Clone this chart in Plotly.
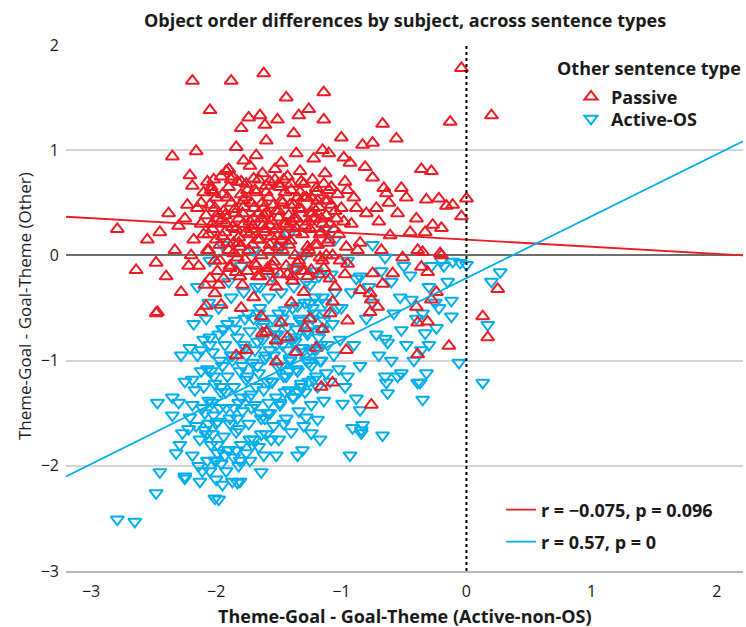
import plotly.graph_objects as go

# ---------------- data ----------------
passive_x = [
    -2.19, -1.88, -1.62, -2.05, -1.44, -1.14, -1.74, -1.65, -1.51, -1.34,
    -1.26, -1.14, -1.80, -1.61, -1.38, -0.04, 0.20, -0.13, -0.67, -0.56,
    -0.83, -0.75, -2.35, -2.16, -1.84, -1.60, -1.36, -2.21, -2.19, -2.23,
    -1.00, -1.10, -0.93, -1.22, -1.68, -1.78, -1.48, -0.98, -1.90, -1.15,
    -0.36, -0.28, -0.81, -0.75, -0.52, -0.66, -0.64, -0.32, -0.22, -0.16,
    -0.11, 0.00, -0.04, -0.20, -0.27, -0.40, -0.33, -0.45, -0.61, -0.21,
    -0.35, -0.39, -0.36, -0.51, -0.68, -0.75, -0.59, -0.20, 0.25, 0.13,
    0.17, -0.14, -0.39, -0.76, -0.31, -0.39, -0.28, -0.40, -0.24, -0.31,
    -0.67, -0.77, -0.76, -0.71, -0.77, -0.85, -0.88, -0.92, -0.95, -0.85,
    -0.97, -0.90, -0.80, -0.70, -0.55, -0.48, -0.62, -0.87, -0.95, -0.72,
    -2.47, -2.12, -1.96, -1.80, -1.64, -1.48, -1.63, -1.60, -1.52, -1.43,
    -1.29, -1.25, -1.84, -1.76, -1.52, -1.36, -1.20, -0.96, -1.16, -1.07,
    -1.09, -1.07, -2.01, -2.09, -1.70, -1.40, -1.05, -0.95, -1.15, -1.30,
    -2.79, -2.64, -2.48, -2.48, -2.45, -2.55, -2.38, -2.30, -2.33, -2.40,
    -2.28, -2.22, -2.18, -2.25, -2.15, -2.10, -2.12, -2.20, -2.05, -2.08,
    -2.02, -2.00, -1.98, -2.03, -1.97, -2.01, -1.99, -2.04, -1.96, -1.95,
    -1.92, -1.90, -1.88, -1.93, -1.87, -1.91, -1.86, -1.89, -1.94, -1.85,
    -1.83, -1.80, -1.78, -1.82, -1.76, -1.81, -1.77, -1.84, -1.79, -1.75,
    -1.78, -1.82, -1.73, -1.70, -1.68, -1.72, -1.66, -1.71, -1.67, -1.74,
    -1.69, -1.65, -1.70, -1.73, -1.63, -1.60, -1.58, -1.62, -1.56, -1.61,
    -1.57, -1.64, -1.59, -1.55, -1.60, -1.63, -1.57, -1.53, -1.50, -1.48,
    -1.52, -1.46, -1.51, -1.47, -1.54, -1.49, -1.45, -1.50, -1.52, -1.43,
    -1.40, -1.38, -1.42, -1.36, -1.41, -1.37, -1.44, -1.39, -1.35, -1.40,
    -1.33, -1.30, -1.28, -1.32, -1.26, -1.31, -1.27, -1.34, -1.29, -1.25,
    -1.23, -1.20, -1.18, -1.22, -1.16, -1.21, -1.17, -1.24, -1.19, -1.15,
    -1.13, -1.10, -1.08, -1.12, -1.06, -1.11, -1.07, -1.14, -1.09, -1.05,
    -1.03, -1.00, -0.98, -1.02, -0.96, -1.01, -0.97, -1.04, -2.12, -2.08,
    -2.10, -2.06, -2.14, -2.07,
    -2.05, -2.00, -1.95, -1.90, -1.85, -1.80, -1.75, -1.70, -1.65, -1.60,
    -1.55, -1.50, -1.45, -1.40, -1.35, -1.30, -1.25, -1.20, -1.15, -1.10,
    -2.03, -1.98, -1.93, -1.88, -1.83, -1.78, -1.73, -1.68, -1.63, -1.58,
    -1.53, -1.48, -1.43, -1.38, -1.33, -1.28, -1.23, -1.18, -1.13, -1.08,
    -2.07, -2.02, -1.97, -1.92, -1.87, -1.82, -1.77, -1.72, -1.67, -1.62,
    -1.57, -1.52, -1.47, -1.42, -1.37, -1.32, -1.27, -1.22, -1.17, -1.12,
    -2.04, -1.99, -1.94, -1.89, -1.84, -1.79, -1.74, -1.69, -1.64, -1.59,
    -1.54, -1.49, -1.44, -1.39, -1.34, -1.29, -1.24, -1.19, -1.14, -1.09,
    -2.06, -2.01, -1.96, -1.91, -1.86, -1.81, -1.76, -1.71, -1.66, -1.61,
    -1.56, -1.51, -1.46, -1.41, -1.36, -1.31, -1.26, -1.21, -1.16, -1.11,
]
passive_y = [
    1.66, 1.66, 1.73, 1.38, 1.50, 1.55, 1.31, 1.33, 1.29, 1.33,
    1.39, 1.29, 1.21, 1.24, 1.16, 1.78, 1.33, 1.27, 1.25, 1.11,
    1.05, 1.07, 0.94, 0.99, 1.03, 1.09, 0.97, 0.76, 0.66, 0.48,
    1.12, 0.97, 0.88, 0.92, 0.95, 0.90, 0.88, 0.93, 0.82, 1.00,
    0.82, 0.80, 0.84, 0.74, 0.64, 0.64, 0.59, 0.53, 0.54, 0.47,
    0.48, 0.54, 0.37, 0.26, 0.29, 0.35, 0.22, 0.22, 0.19, 0.02,
    0.03, 0.05, -0.11, -0.02, 0.05, -0.17, -0.17, 0.00, -0.32, -0.58,
    -0.78, -0.86, -0.94, -1.42, -0.63, -0.64, -0.42, -0.49, -0.35, -0.16,
    -0.27, -0.36, -0.42, -0.49, -0.54, -0.33, 0.45, 0.30, 0.62, 0.12,
    0.70, 0.55, 0.40, 0.32, 0.40, 0.55, 0.50, 0.05, -0.08, 0.45,
    -0.54, -0.54, -0.47, -0.50, -0.58, -0.64, -0.74, -0.73, -0.81, -0.78,
    -0.69, -0.60, -0.95, -0.90, -1.01, -0.92, -0.88, -0.90, -1.25, -1.21,
    -0.55, -0.44, -0.36, -0.28, -0.40, -0.45, -0.30, -0.62, -0.70, -0.35,
    0.25, -0.14, -0.55, -0.07, 0.22, 0.15, 0.40, 0.28, 0.05, -0.20,
    -0.35, -0.10, 0.15, 0.35, 0.45, 0.60, 0.30, 0.00, -0.22, -0.48,
    0.72, 0.55, 0.40, 0.25, 0.10, -0.05, -0.15, 0.62, 0.33, 0.18,
    0.80, 0.65, 0.50, 0.38, 0.27, 0.12, 0.02, -0.10, -0.22, 0.44,
    0.70, 0.58, 0.46, 0.35, 0.22, 0.08, -0.04, -0.16, -0.28, 0.62,
    0.30, 0.17, 0.85, 0.73, 0.60, 0.50, 0.40, 0.28, 0.15, 0.05,
    -0.08, -0.20, 0.35, 0.20, 0.78, 0.66, 0.55, 0.45, 0.33, 0.22,
    0.10, 0.00, -0.12, -0.25, 0.40, 0.28, 0.70, 0.82, 0.68, 0.52,
    0.42, 0.30, 0.18, 0.05, -0.06, -0.18, 0.60, 0.36, 0.25, 0.75,
    0.62, 0.48, 0.38, 0.26, 0.14, 0.00, -0.10, -0.24, 0.55, 0.32,
    0.80, 0.68, 0.55, 0.44, 0.32, 0.20, 0.08, -0.05, -0.15, 0.40,
    0.72, 0.60, 0.46, 0.35, 0.22, 0.10, -0.02, -0.14, 0.52, 0.30,
    0.78, 0.62, 0.48, 0.38, 0.25, 0.12, 0.00, -0.12, -0.22, 0.42,
    0.58, 0.45, 0.32, 0.20, 0.08, -0.05, -0.18, 0.35, 0.50, 0.38,
    0.20, 0.05, -0.10, 0.70,
    0.48, 0.15, 0.58, 0.05, 0.40, 0.70, -0.15, 0.45, 0.15, 0.60,
    -0.10, 0.42, 0.20, 0.68, -0.08, 0.55, 0.25, 0.64, -0.05, 0.15,
    0.30, -0.28, 0.22, 0.72, -0.02, 0.52, 0.32, -0.10, 0.50, 0.05,
    0.72, 0.15, -0.18, 0.35, 0.60, 0.02, 0.40, -0.18, 0.52, 0.65,
    0.05, 0.60, -0.05, 0.30, 0.75, 0.12, 0.55, 0.25, -0.20, 0.38,
    0.28, -0.30, 0.50, 0.10, 0.22, 0.70, -0.20, 0.45, 0.20, 0.00,
    0.65, 0.35, 0.42, -0.12, 0.25, 0.40, 0.05, 0.62, 0.35, -0.15,
    0.48, 0.65, 0.30, -0.20, 0.45, 0.28, 0.55, 0.10, 0.68, 0.30,
    0.20, 0.45, 0.75, 0.55, 0.12, -0.20, 0.68, 0.10, 0.72, 0.25,
    0.18, 0.08, 0.72, 0.48, 0.35, -0.15, 0.05, 0.35, 0.35, 0.52,
]

active_x = [
    -2.79, -2.65, -2.48, -2.45, -2.47, -2.21, -2.19, -2.35, -2.19, -2.35,
    -2.21, -2.25, -2.13, -2.00, -2.01, -1.87, -1.81, -1.64, -1.99, -2.29,
    -2.32, -2.27, -1.83, -1.98, -1.95, -2.05, -2.25, -1.52, -1.35, -1.31,
    -1.17, -1.24, -0.93, -0.99, -0.88, -0.85, -0.91, -0.84, -1.28, -1.19,
    0.27, 0.20, 0.17, 0.13, -0.06, -0.12, -0.12, 0.00, -0.05, -0.11,
    -0.32, -0.37, -0.35, -0.65, -0.64, -0.55, -0.52, -0.63, -0.83, -0.84,
    -0.67, -0.52, -0.33, -0.24, -0.65, -0.63, -0.36, -0.39, -0.53, -0.44,
    -0.45, -0.20, -0.28, -0.30, -0.22, -0.40, -0.15, -0.25, -0.18, -0.35,
    -0.80, -0.75, -0.70, -0.85, -0.78, -0.60, -0.58, -0.72, -0.90, -0.95,
    -0.48, -0.42, -0.60, -0.30, -0.50, -0.68, -0.85, -0.92, -1.00, -0.97,
    -2.05, -1.95, -1.80, -1.70, -1.55, -1.42, -1.30, -1.20, -1.05, -0.95,
    -1.90, -1.65, -1.48, -1.25, -1.12, -0.88, -0.75, -0.65, -2.15, -1.38,
    -2.18, -2.15, -2.12, -2.17, -2.11, -2.16, -2.13, -2.19, -2.14, -2.10,
    -2.08, -2.05, -2.03, -2.07, -2.01, -2.06, -2.02, -2.09, -2.04, -2.00,
    -2.06, -2.03, -1.98, -1.95, -1.93, -1.97, -1.91, -1.96, -1.92, -1.99,
    -1.94, -1.90, -1.96, -1.92, -1.88, -1.85, -1.83, -1.87, -1.81, -1.86,
    -1.82, -1.89, -1.84, -1.80, -1.86, -1.82, -1.78, -1.75, -1.73, -1.77,
    -1.71, -1.76, -1.72, -1.79, -1.74, -1.70, -1.76, -1.73, -1.68, -1.65,
    -1.63, -1.67, -1.61, -1.66, -1.62, -1.69, -1.64, -1.60, -1.66, -1.62,
    -1.58, -1.55, -1.53, -1.57, -1.51, -1.56, -1.52, -1.59, -1.54, -1.50,
    -1.48, -1.45, -1.43, -1.47, -1.41, -1.46, -1.42, -1.49, -1.44, -1.40,
    -1.38, -1.35, -1.33, -1.37, -1.31, -1.36, -1.32, -1.39, -1.34, -1.30,
    -1.28, -1.25, -1.23, -1.27, -1.21, -1.26, -1.22, -1.29, -1.24, -1.18,
    -1.15, -1.13, -1.17, -1.11, -1.16, -1.12, -1.19, -1.14, -1.08, -1.05,
    -1.03, -1.07, -1.01, -1.06, -1.02, -1.09, -2.28, -2.25, -2.22, -2.30,
    -2.10, -2.05, -2.00, -1.95, -1.90, -1.85, -1.80, -1.75, -1.70, -1.65,
    -1.60, -1.55, -1.50, -1.45, -1.40, -1.35, -1.30, -1.25, -1.20, -1.15,
    -2.08, -2.03, -1.98, -1.93, -1.88, -1.83, -1.78, -1.73, -1.68, -1.63,
    -1.58, -1.53, -1.48, -1.43, -1.38, -1.33, -1.28, -1.23, -1.18, -1.13,
    -2.12, -2.07, -2.02, -1.97, -1.92, -1.87, -1.82, -1.77, -1.72, -1.67,
    -1.62, -1.57, -1.52, -1.47, -1.42, -1.37, -1.32, -1.27, -1.22, -1.17,
    -2.09, -2.04, -1.99, -1.94, -1.89, -1.84, -1.79, -1.74, -1.69, -1.64,
    -1.59, -1.54, -1.49, -1.44, -1.39, -1.34, -1.29, -1.24, -1.19, -1.14,
    -2.11, -2.06, -2.01, -1.96, -1.91, -1.86, -1.81, -1.76, -1.71, -1.66,
    -1.61, -1.56, -1.51, -1.46, -1.41, -1.36, -1.31, -1.26, -1.21, -1.16,
]
active_y = [
    -2.51, -2.53, -2.26, -2.06, -1.40, -0.88, -1.18, -1.35, -1.42, -1.52,
    -1.54, -2.12, -2.15, -2.13, -2.31, -2.15, -2.15, -2.06, -1.88, -1.80,
    -1.88, -1.69, -2.16, -2.32, -2.18, -2.05, -2.10, -1.90, -1.90, -1.85,
    -1.75, -1.69, -1.90, -1.41, -1.36, -1.47, -1.64, -1.66, -1.54, -1.56,
    -0.16, -0.25, -0.66, -1.21, -1.02, -0.43, -0.58, -0.09, -0.07, -0.06,
    -1.12, -1.21, -1.37, -1.15, -1.21, -1.15, -1.12, -1.31, -1.61, -1.69,
    -1.71, -0.71, -0.74, -0.69, -0.79, -0.83, -0.90, -1.21, -0.40, -0.42,
    -0.19, -0.05, -0.10, -0.30, -0.50, -0.60, -0.25, -0.45, -0.10, -0.55,
    -0.60, -0.45, -0.95, -1.05, -0.30, -0.25, -0.55, -0.75, -0.85, -1.15,
    -0.85, -1.00, -1.00, -0.85, -0.10, -0.15, -0.20, -0.35, -0.50, -1.25,
    -0.05, 0.10, -0.10, 0.05, -0.20, 0.20, 0.00, -0.15, 0.15, -0.05,
    -0.25, -0.30, 0.08, -0.28, 0.25, -0.22, 0.10, -0.02, -0.30, -0.12,
    -0.65, -0.95, -1.10, -1.28, -1.45, -1.62, -1.75, -1.90, -2.00, -0.80,
    -0.60, -0.78, -0.92, -1.08, -1.22, -1.38, -1.52, -1.66, -1.80, -1.95,
    -0.45, -1.70, -0.50, -0.70, -0.85, -1.00, -1.15, -1.30, -1.45, -1.58,
    -1.72, -1.85, -1.98, -2.05, -0.40, -0.62, -0.78, -0.95, -1.10, -1.25,
    -1.40, -1.55, -1.68, -1.80, -1.92, -2.00, -0.35, -0.55, -0.72, -0.88,
    -1.02, -1.18, -1.32, -1.48, -1.60, -1.75, -1.88, -1.95, -0.30, -0.50,
    -0.68, -0.82, -0.98, -1.12, -1.28, -1.42, -1.55, -1.70, -1.82, -1.90,
    -0.40, -0.60, -0.75, -0.90, -1.05, -1.20, -1.35, -1.50, -1.62, -1.75,
    -0.35, -0.52, -0.68, -0.85, -1.00, -1.15, -1.28, -1.42, -1.55, -1.68,
    -0.30, -0.48, -0.62, -0.78, -0.92, -1.08, -1.22, -1.35, -1.48, -1.62,
    -0.25, -0.45, -0.60, -0.75, -0.90, -1.02, -1.18, -1.30, -1.42, -0.20,
    -0.40, -0.55, -0.70, -0.85, -1.00, -1.12, -1.25, -1.38, -0.18, -0.35,
    -0.50, -0.65, -0.80, -0.95, -1.08, -1.20, -0.95, -1.20, -1.65, -1.40,
    -1.25, -0.85, -1.60, -1.05, -1.85, -0.70, -1.35, -1.15, -0.60, -1.50,
    -0.95, -1.20, -0.55, -1.30, -0.80, -1.10, -0.65, -0.90, -1.15, -0.70,
    -1.70, -1.40, -0.75, -1.90, -0.95, -1.55, -0.85, -1.75, -1.25, -0.80,
    -1.40, -0.70, -1.05, -0.90, -1.35, -0.60, -1.00, -0.50, -0.78, -0.45,
    -0.90, -1.95, -1.15, -1.45, -1.30, -1.00, -1.65, -0.60, -1.45, -1.05,
    -0.65, -1.50, -0.85, -0.60, -1.10, -0.82, -1.25, -0.72, -0.55, -1.00,
    -1.50, -1.10, -1.80, -0.70, -1.60, -1.85, -1.05, -1.35, -0.90, -1.70,
    -1.20, -0.95, -1.40, -1.15, -0.50, -1.30, -0.45, -1.05, -0.88, -0.62,
    -2.05, -1.60, -1.95, -1.25, -0.65, -1.45, -1.95, -0.95, -1.80, -0.55,
    -1.55, -1.75, -0.75, -1.60, -0.98, -0.70, -0.88, -1.20, -0.40, -0.85,
]

# regression lines: (slope, intercept)
passive_fit = (-0.068, 0.150)
active_fit = (0.589, -0.216)
passive_fit_label = "r = \u22120.075, p = 0.096"
active_fit_label = "r = 0.57, p = 0"

x_ticks = [-3, -2, -1, 0, 1, 2]
y_ticks = [-3, -2, -1, 0, 1, 2]
x_range = [-3.2, 2.21]
y_range = [-3, 2]

title_text = "Object order differences by subject, across sentence types"
x_title = "Theme-Goal - Goal-Theme (Active-non-OS)"
y_title = "Theme-Goal - Goal-Theme (Other)"
legend_title = "Other sentence type"

# ---------------- styling ----------------
RED = "#EC1C24"
BLUE = "#00AEEF"
FONT = "Open Sans"
TXT = "#1a1a1a"

# plot-area pixel geometry helpers (for placing legends / labels)
L, R, T, B = 66, 3, 45, 56
PW, PH = 746 - L - R, 627 - T - B


def px_x(px):
    return (px - L) / PW


def px_y(py):
    return (627 - B - py) / PH


fig = go.Figure()

fig.add_trace(go.Scatter(
    x=active_x, y=active_y, mode="markers", name="Active-OS",
    marker=dict(symbol="triangle-down-open", size=11.5, color=BLUE,
                line=dict(width=2, color=BLUE)),
    legend="legend3",
))
fig.add_trace(go.Scatter(
    x=passive_x, y=passive_y, mode="markers", name="Passive",
    marker=dict(symbol="triangle-up-open", size=11.5, color=RED,
                line=dict(width=2, color=RED)),
    legend="legend",
))

line_x = list(x_range)
fig.add_trace(go.Scatter(
    x=line_x, y=[passive_fit[0] * v + passive_fit[1] for v in line_x],
    mode="lines", name=passive_fit_label, line=dict(color=RED, width=1.8),
    legend="legend2",
))
fig.add_trace(go.Scatter(
    x=line_x, y=[active_fit[0] * v + active_fit[1] for v in line_x],
    mode="lines", name=active_fit_label, line=dict(color=BLUE, width=1.8),
    legend="legend4",
))

fig.add_shape(type="line", x0=0, x1=0, y0=y_range[0], y1=y_range[1],
              xref="x", yref="y", line=dict(color="black", width=2, dash="dot"))

leg_font = dict(size=18, family=FONT, color=TXT, weight=700)


def leg(xpx, ypx):
    return dict(x=px_x(xpx), y=px_y(ypx), xanchor="left", yanchor="middle",
                font=leg_font, bgcolor="rgba(0,0,0,0)", itemsizing="trace")


fig.update_layout(
    width=746, height=627,
    margin=dict(l=L, r=R, t=T, b=B),
    paper_bgcolor="white", plot_bgcolor="white",
    font=dict(family=FONT, color=TXT),
    showlegend=True,
    legend=leg(571, 97),
    legend3=leg(571, 119),
    legend2=leg(501, 510),
    legend4=leg(501, 542),
    xaxis=dict(
        range=x_range, tickvals=x_ticks, showgrid=False, zeroline=False,
        showline=True, linecolor="#b5b5b5", linewidth=1.5, ticks="",
        ticklabelstandoff=5,
        tickfont=dict(size=16, family=FONT, color=TXT, weight=500),
    ),
    yaxis=dict(
        range=y_range, tickvals=y_ticks, showgrid=True, gridcolor="#d4d4d4",
        gridwidth=1.5, zeroline=True, zerolinecolor="#6e6e6e", zerolinewidth=1.5,
        showline=False, ticks="", ticklabelstandoff=6,
        tickfont=dict(size=16, family=FONT, color=TXT, weight=500),
    ),
    annotations=[
        dict(text=title_text, xref="paper", yref="paper", x=0.5, y=px_y(20),
             xanchor="center", yanchor="middle", showarrow=False,
             font=dict(size=18, family=FONT, color=TXT, weight=700)),
        dict(text=x_title, xref="paper", yref="paper", x=0.5, y=px_y(616),
             xanchor="center", yanchor="middle", showarrow=False,
             font=dict(size=18, family=FONT, color=TXT, weight=700)),
        dict(text=y_title, xref="paper", yref="paper", x=px_x(24), y=px_y(306),
             xanchor="center", yanchor="middle", showarrow=False, textangle=-90,
             font=dict(size=17, family=FONT, color=TXT)),
        dict(text=legend_title, xref="paper", yref="paper", x=px_x(743),
             y=px_y(68), xanchor="right", yanchor="middle", showarrow=False,
             font=dict(size=18, family=FONT, color=TXT, weight=700)),
    ],
)

fig.write_html("out.html")
